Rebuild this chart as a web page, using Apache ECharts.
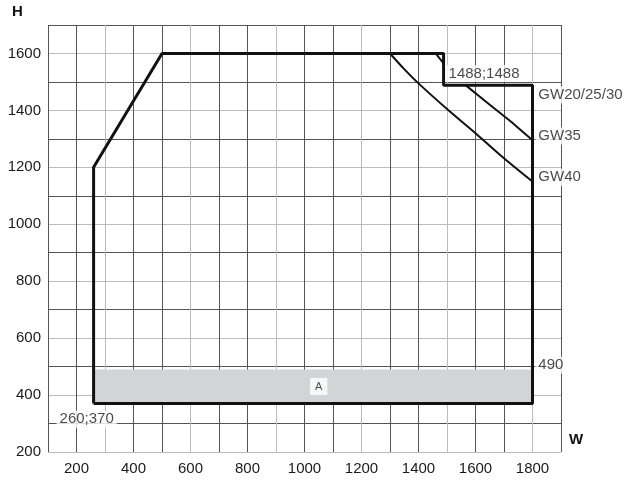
<!DOCTYPE html>
<html>
<head>
<meta charset="utf-8">
<script src="https://cdn.jsdelivr.net/npm/echarts@6/dist/echarts.min.js"></script>
<style>html,body{margin:0;padding:0;background:#fff}#c{width:635px;height:481px}</style>
</head>
<body>
<div id="c"></div>
<script>
// outline of the working range
var envelope = [[260,370],[260,1200],[500,1600],[1488,1600],[1488,1488],[1800,1488],[1800,370],[260,370]];
var gw35a = [[1460,1600],[1488,1565]];
var gw35b = [[1566,1488],[1650,1420],[1725,1360],[1800,1295]];
var gw40 = [[1300,1600],[1350,1545],[1400,1495],[1500,1405],[1600,1320],[1700,1232],[1800,1150]];
var band = [[260,490],[1800,490]];
var bandLow = 370;
// text notes: [x, y, text]
var notes = [[1495,1530,'1488;1488'],[1810,1455,'GW20/25/30'],[1810,1310,'GW35'],[1810,1165,'GW40'],[1810,505,'490'],[130,315,'260;370']];
var boxNote = [[1050,430,'A']];

var chart = echarts.init(document.getElementById('c'));
var base = {color:'#1a1a1a', fontFamily:'Liberation Sans, Arial', fontSize:15};

chart.setOption({
  animation:false,
  grid:{left:48,right:74,top:25,bottom:29},
  xAxis:{type:'value',min:100,max:1900,interval:100,
    axisLine:{show:false},axisTick:{show:false},
    axisLabel:Object.assign({margin:9,formatter:function(v){return v%200===0 && v<1900 ? v : '';}},base),
    splitLine:{lineStyle:{color:['#555','#555','#bbb'],width:1}}},
  yAxis:{type:'value',min:200,max:1700,interval:100,
    axisLine:{show:false},axisTick:{show:false},
    axisLabel:Object.assign({margin:7,formatter:function(v){return v%200===0 ? v : '';}},base),
    splitLine:{lineStyle:{color:['#bbb','#555'],width:1}}},
  series:[
    {type:'line',data:band,symbol:'none',lineStyle:{width:0},
      areaStyle:{color:'#d3d4d6',opacity:1,origin:bandLow},z:1},
    {type:'line',data:envelope,symbol:'none',lineStyle:{color:'#111',width:3},z:5},
    {type:'line',data:gw35a,symbol:'none',lineStyle:{color:'#111',width:2},z:4},
    {type:'line',data:gw35b,symbol:'none',lineStyle:{color:'#111',width:2},z:4},
    {type:'line',data:gw40,symbol:'none',smooth:0.3,lineStyle:{color:'#111',width:2},z:4},
    {type:'scatter',symbolSize:0,z:6,data:notes.map(function(n){return {value:[n[0],n[1]],name:n[2]};}),
      label:Object.assign({show:true,position:'right',distance:0,formatter:'{b}',backgroundColor:'#fff',padding:[1,3]},base)},
    {type:'scatter',symbolSize:0,z:6,data:boxNote.map(function(n){return {value:[n[0],n[1]],name:n[2]};}),
      label:{show:true,position:'inside',formatter:'{b}',backgroundColor:'#fff',padding:[3,5],color:'#222',fontSize:11,fontFamily:'Liberation Sans, Arial'}}
  ],
  graphic:[
    {type:'text',left:12,top:4,style:{text:'H',font:'bold 15px Liberation Sans, Arial',fill:'#111'}},
    {type:'text',left:569,top:432,style:{text:'W',font:'bold 15px Liberation Sans, Arial',fill:'#111'}}
  ]
});
</script>
</body>
</html>
